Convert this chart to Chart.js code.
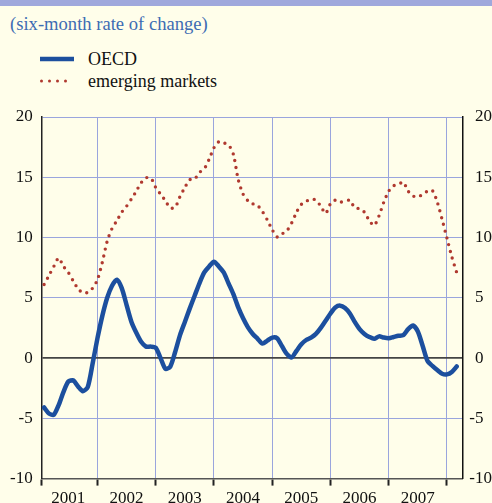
<!DOCTYPE html>
<html>
<head>
<meta charset="utf-8">
<script src="https://cdn.jsdelivr.net/npm/chart.js@4.4.1/dist/chart.umd.min.js"></script>
<style>
  html, body { margin: 0; padding: 0; background: #fffeea; overflow: hidden; }
  #wrap { position: relative; width: 492px; height: 503px; overflow: hidden; background: #fffeea; }
  .band { position: absolute; left: 0; top: 0; width: 492px; height: 6px; background: #9fa8dc; }
  .sub { position: absolute; left: 10px; top: 13px; font: 18.6px "Liberation Serif", serif; color: #3d6cb3; line-height: 22px; white-space: nowrap; }
  .leg { position: absolute; left: 40px; font: 18px "Liberation Serif", serif; color: #111; line-height: 20px; white-space: nowrap; }
  .leg svg { vertical-align: middle; margin-right: 14px; margin-top: -3px; }
  canvas { position: absolute; left: 0; top: 0; }
</style>
</head>
<body>
<div id="wrap">
  <div class="band"></div>
  <div class="sub">(six-month rate of change)</div>
  <div class="leg" style="top:49px"><svg width="34" height="8"><line x1="0" y1="4" x2="34" y2="4" stroke="#1c4f9e" stroke-width="4.5"/></svg>OECD</div>
  <div class="leg" style="top:71px"><svg width="34" height="8"><line x1="1.5" y1="4" x2="33" y2="4" stroke="#b0392f" stroke-width="3" stroke-linecap="round" stroke-dasharray="0 8"/></svg>emerging markets</div>
  <canvas id="chart" width="492" height="512"></canvas>
</div>
<script>
// monthly readings, Feb 2001 .. Mar 2008
var years = ['2001', '2002', '2003', '2004', '2005', '2006', '2007'];
var yTicks = [-10, -5, 0, 5, 10, 15, 20];

var oecd = [-4.1, -4.6, -4.7, -3.9, -2.8, -1.95, -1.85, -2.35, -2.75, -2.4,
  -0.45, 1.65, 3.5, 5.0, 6.0, 6.5, 5.8, 4.4, 3.0, 2.1,
  1.35, 0.95, 0.95, 0.85, 0.0, -0.9, -0.7, 0.5, 1.9, 3.0,
  4.1, 5.15, 6.2, 7.1, 7.6, 8.0, 7.6, 7.1, 6.2, 5.3,
  4.2, 3.3, 2.55, 2.0, 1.6, 1.2, 1.45, 1.7, 1.65, 1.0,
  0.35, 0.05, 0.6, 1.15, 1.5, 1.7, 2.0, 2.5, 3.1, 3.7,
  4.2, 4.35, 4.15, 3.7, 3.0, 2.4, 2.0, 1.75, 1.6, 1.8,
  1.7, 1.65, 1.75, 1.85, 1.9, 2.4, 2.7, 2.2, 1.0, -0.25,
  -0.65, -1.0, -1.3, -1.35, -1.15, -0.7];

var emerging = [6.1, 6.85, 7.6, 8.3, 7.6, 7.1, 6.4, 5.75, 5.4, 5.45,
  5.8, 6.5, 7.95, 9.7, 10.75, 11.4, 12.1, 12.6, 13.2, 13.85,
  14.55, 14.95, 14.95, 14.15, 13.6, 13.05, 12.45, 12.5, 13.4, 14.15,
  14.8, 14.85, 15.4, 15.7, 16.5, 17.45, 17.95, 17.85, 17.7, 16.9,
  14.8, 13.6, 13.05, 12.8, 12.65, 12.15, 11.45, 10.65, 10.05, 10.3,
  10.55, 11.2, 12.1, 12.75, 13.0, 13.2, 13.1, 12.6, 12.0, 12.8,
  13.1, 12.95, 13.0, 13.1, 12.45, 12.4, 12.1, 11.4, 11.0, 11.8,
  12.95, 13.85, 14.3, 14.4, 14.6, 13.85, 13.45, 13.35, 13.6, 13.85,
  13.9, 12.95, 11.5, 9.95, 8.4, 7.1];

var xMin = 0.5, xMax = 87.2;
var gridBlue = '#9aa5dd';
var serif = 'Liberation Serif';

function toPoints(arr) {
  return arr.map(function(v, i) { return {x: i + 1, y: v}; });
}
function isMid(v) { return v % 12 === 6; }

// right axis labels, minus sign hanging left of the digits
var rightLabels = {
  id: 'rightLabels',
  afterDraw: function(chart) {
    var ctx = chart.ctx;
    var s = chart.scales.y;
    var x = chart.chartArea.right + 12.5;
    ctx.save();
    ctx.font = '17px "' + serif + '"';
    ctx.fillStyle = '#111';
    ctx.textBaseline = 'middle';
    yTicks.forEach(function(v) {
      var y = s.getPixelForValue(v);
      ctx.textAlign = 'left';
      ctx.fillText(String(Math.abs(v)), x, y);
      if (v < 0) {
        ctx.textAlign = 'right';
        ctx.fillText('-', x, y);
      }
    });
    ctx.restore();
  }
};

var ctx = document.getElementById('chart').getContext('2d');
var chart = new Chart(ctx, {
  type: 'line',
  data: {
    datasets: [{
      label: 'OECD',
      data: toPoints(oecd),
      borderColor: '#1c4f9e',
      borderWidth: 4.5,
      borderJoinStyle: 'round',
      borderCapStyle: 'round',
      pointRadius: 0,
      tension: 0.25
    }, {
      label: 'emerging markets',
      data: toPoints(emerging),
      borderColor: '#b0392f',
      borderWidth: 3.4,
      borderDash: [0, 7],
      borderCapStyle: 'round',
      pointRadius: 0,
      tension: 0.25
    }]
  },
  plugins: [rightLabels],
  options: {
    responsive: false,
    animation: false,
    layout: { padding: { left: 1, right: 29.5, top: 117, bottom: 0 } },
    plugins: { legend: { display: false }, tooltip: { enabled: false } },
    scales: {
      x: {
        type: 'linear',
        min: xMin,
        max: xMax,
        afterBuildTicks: function(axis) {
          var t = [xMin];
          for (var m = 6; m <= 84; m += 6) t.push(m);
          axis.ticks = t.map(function(v) { return {value: v}; });
        },
        ticks: {
          autoSkip: false,
          maxRotation: 0,
          padding: 3,
          color: '#111',
          font: { family: serif, size: 17 },
          callback: function(v) {
            return isMid(v) ? years[(v - 6) / 12] : '';
          }
        },
        grid: {
          color: function(c) {
            var v = c.tick ? c.tick.value : 0;
            return (isMid(v) || v === xMin) ? 'transparent' : gridBlue;
          },
          tickColor: function(c) {
            var v = c.tick ? c.tick.value : 0;
            return isMid(v) ? 'transparent' : '#222';
          },
          tickLength: 7,
          tickWidth: 2,
          lineWidth: 1
        },
        border: { color: '#555', width: 1.5 }
      },
      y: {
        min: -10,
        max: 20,
        position: 'left',
        afterBuildTicks: function(axis) {
          axis.ticks = yTicks.map(function(v) { return {value: v}; });
        },
        ticks: {
          padding: 9,
          color: '#111',
          font: { family: serif, size: 17 }
        },
        grid: {
          color: function(c) { return c.tick && c.tick.value === 0 ? '#444' : gridBlue; },
          lineWidth: function(c) { return c.tick && c.tick.value === 0 ? 1.8 : 1; },
          drawTicks: false
        },
        border: { color: '#222', width: 1.5 }
      },
      y2: {
        min: -10,
        max: 20,
        position: 'right',
        ticks: { display: false },
        grid: { display: false, drawTicks: false },
        border: { color: '#111', width: 1.5 }
      }
    }
  }
});
</script>
</body>
</html>
